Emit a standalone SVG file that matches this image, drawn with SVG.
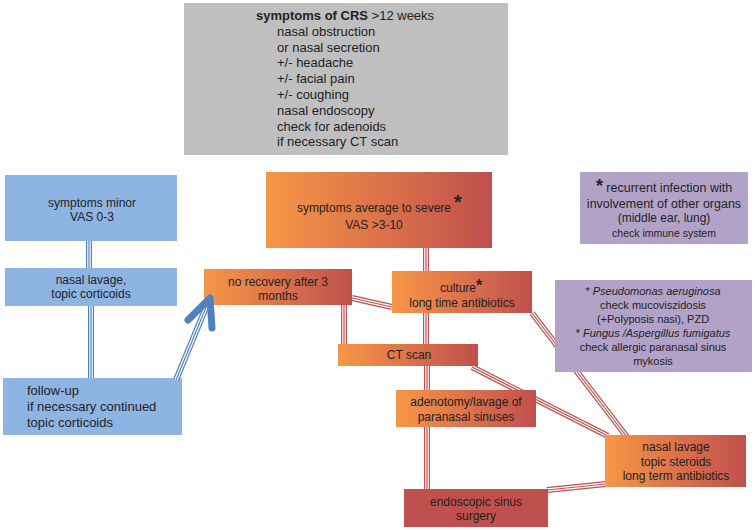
<svg xmlns="http://www.w3.org/2000/svg" width="755" height="530" viewBox="0 0 755 530">
<defs>
<linearGradient id="og" x1="0" y1="0" x2="1" y2="0">
<stop offset="0" stop-color="#f79646"/>
<stop offset="1" stop-color="#c0504d"/>
</linearGradient>
<style>
text{font-family:"Liberation Sans",Arial,sans-serif;fill:#222;}
.c{text-anchor:middle;}
.gray{fill:#bfbfbf;}
.blue{fill:#8eb4e3;}
.org{fill:url(#og);}
.red{fill:#c0504d;}
.pur{fill:#b3a2c7;}
.ro{stroke:#c0504d;stroke-width:6;fill:none;}
.rw{stroke:#fff;stroke-width:3.6;fill:none;}
.ri{stroke:#c0504d;stroke-width:1.2;fill:none;}
.bo{stroke:#4f81bd;stroke-width:6;fill:none;}
.bw{stroke:#fff;stroke-width:3.6;fill:none;}
.bi{stroke:#4f81bd;stroke-width:1.2;fill:none;}
</style>
<path id="l1" d="M426,248 V271"/>
<path id="l2" d="M352,298 L392,307"/>
<path id="l3" d="M344,305 V344"/>
<path id="l4" d="M426,313 V344"/>
<path id="l5" d="M427,366 V390"/>
<path id="l6" d="M427,427 V489"/>
<path id="l7" d="M532,313 L627,437"/>
<path id="l8" d="M472,367 L608,436"/>
<path id="l9" d="M547,490 L606,484"/>
<path id="b1" d="M89,241 V268"/>
<path id="b2" d="M91,306 V378"/>
<path id="b3" d="M176,380 L207,305"/>
</defs>
<rect width="755" height="530" fill="#fff"/>
<g id="connectors">
<g class="ro"><use href="#l1"/><use href="#l2"/><use href="#l3"/><use href="#l4"/><use href="#l5"/><use href="#l6"/><use href="#l7"/><use href="#l8"/><use href="#l9"/></g>
<g class="rw"><use href="#l1"/><use href="#l2"/><use href="#l3"/><use href="#l4"/><use href="#l5"/><use href="#l6"/><use href="#l7"/><use href="#l8"/><use href="#l9"/></g>
<g class="ri"><use href="#l1"/><use href="#l2"/><use href="#l3"/><use href="#l4"/><use href="#l5"/><use href="#l6"/><use href="#l7"/><use href="#l8"/><use href="#l9"/></g>
<g class="bo"><use href="#b1"/><use href="#b2"/></g>
<g class="bw"><use href="#b1"/><use href="#b2"/></g>
<g class="bi"><use href="#b1"/><use href="#b2"/></g>
</g>
<g id="crs">
<rect class="gray" x="184" y="3" width="324" height="152"/>
<text x="256" y="20" font-size="13"><tspan font-weight="bold">symptoms of CRS</tspan> &gt;12 weeks</text>
<text x="277" font-size="13">
<tspan x="277" y="36">nasal obstruction</tspan>
<tspan x="277" y="51.6">or nasal secretion</tspan>
<tspan x="277" y="67.4">+/- headache</tspan>
<tspan x="277" y="83.2">+/- facial pain</tspan>
<tspan x="277" y="99">+/- coughing</tspan>
<tspan x="277" y="114.8">nasal endoscopy</tspan>
<tspan x="277" y="130.6">check for adenoids</tspan>
<tspan x="277" y="146.4">if necessary CT scan</tspan>
</text>
</g>
<g id="minor">
<rect class="blue" x="5" y="175" width="172" height="66"/>
<text class="c" x="92" y="207" font-size="12">symptoms minor</text>
<text class="c" x="92" y="221" font-size="12">VAS 0-3</text>
</g>
<g id="lavage-blue">
<rect class="blue" x="5" y="268" width="172" height="38"/>
<text class="c" x="91" y="284" font-size="12">nasal lavage,</text>
<text class="c" x="91" y="298" font-size="12">topic corticoids</text>
</g>
<g id="followup">
<rect class="blue" x="3" y="378" width="179" height="57"/>
<text x="27" y="395" font-size="13">follow-up</text>
<text x="27" y="411" font-size="13">if necessary continued</text>
<text x="27" y="427" font-size="13">topic corticoids</text>
</g>
<g id="severe">
<rect class="org" x="266" y="172" width="226" height="76"/>
<text class="c" x="374" y="212" font-size="12">symptoms average to severe</text>
<text class="c" x="374" y="229" font-size="12">VAS &gt;3-10</text>
<text class="c" x="458" y="209" font-size="20" font-weight="bold">*</text>
</g>
<g id="norecovery">
<rect class="org" x="204" y="269" width="148" height="36"/>
<text class="c" x="278" y="286" font-size="12">no recovery after 3</text>
<text class="c" x="278" y="300" font-size="12">months</text>
</g>
<g id="culture">
<rect class="org" x="392" y="271" width="140" height="42"/>
<text class="c" x="458" y="292" font-size="12">culture</text>
<text class="c" x="479" y="291" font-size="16" font-weight="bold">*</text>
<text class="c" x="462" y="307" font-size="12">long time antibiotics</text>
</g>
<g id="ctscan">
<rect class="org" x="338" y="344" width="140" height="22"/>
<text class="c" x="409" y="359" font-size="12">CT scan</text>
</g>
<g id="adenotomy">
<rect class="org" x="396" y="390" width="140" height="37"/>
<text class="c" x="466" y="406" font-size="12">adenotomy/lavage of</text>
<text class="c" x="466" y="421" font-size="12">paranasal sinuses</text>
</g>
<g id="ess">
<rect class="red" x="404" y="489" width="144" height="38"/>
<text class="c" x="476" y="506" font-size="12">endoscopic sinus</text>
<text class="c" x="476" y="520" font-size="12">surgery</text>
</g>
<g id="lavage-red">
<rect class="org" x="605" y="435" width="141" height="52"/>
<text class="c" x="676" y="451" font-size="12">nasal lavage</text>
<text class="c" x="676" y="466" font-size="12">topic steroids</text>
<text class="c" x="676" y="480" font-size="12">long term antibiotics</text>
</g>
<g id="immune">
<rect class="pur" x="580" y="172" width="168" height="72"/>
<text class="c" x="664" y="192" font-size="12.5"><tspan font-size="18" font-weight="bold">*</tspan> recurrent infection with</text>
<text class="c" x="664" y="208" font-size="12.5">involvement of other organs</text>
<text class="c" x="664" y="222" font-size="12">(middle ear, lung)</text>
<text class="c" x="664" y="237" font-size="10.5">check immune system</text>
</g>
<g id="pathogens">
<rect class="pur" x="555" y="280" width="197" height="92"/>
<text class="c" x="653" y="295" font-size="11">* <tspan font-style="italic">Pseudomonas aeruginosa</tspan></text>
<text class="c" x="653" y="309" font-size="11">check mucoviszidosis</text>
<text class="c" x="653" y="323" font-size="11">(+Polyposis nasi), PZD</text>
<text class="c" x="653" y="337" font-size="11">* <tspan font-style="italic">Fungus /Aspergillus fumigatus</tspan></text>
<text class="c" x="653" y="351" font-size="11">check allergic paranasal sinus</text>
<text class="c" x="653" y="365" font-size="11">mykosis</text>
</g>
<g id="arrow-connector">
<use href="#b3" class="bo"/>
<use href="#b3" class="bw"/>
<use href="#b3" class="bi"/>
<polyline points="188,320 210,298 212,328" fill="none" stroke="#4f81bd" stroke-width="7" stroke-linecap="round" stroke-linejoin="round"/>
</g>
</svg>
